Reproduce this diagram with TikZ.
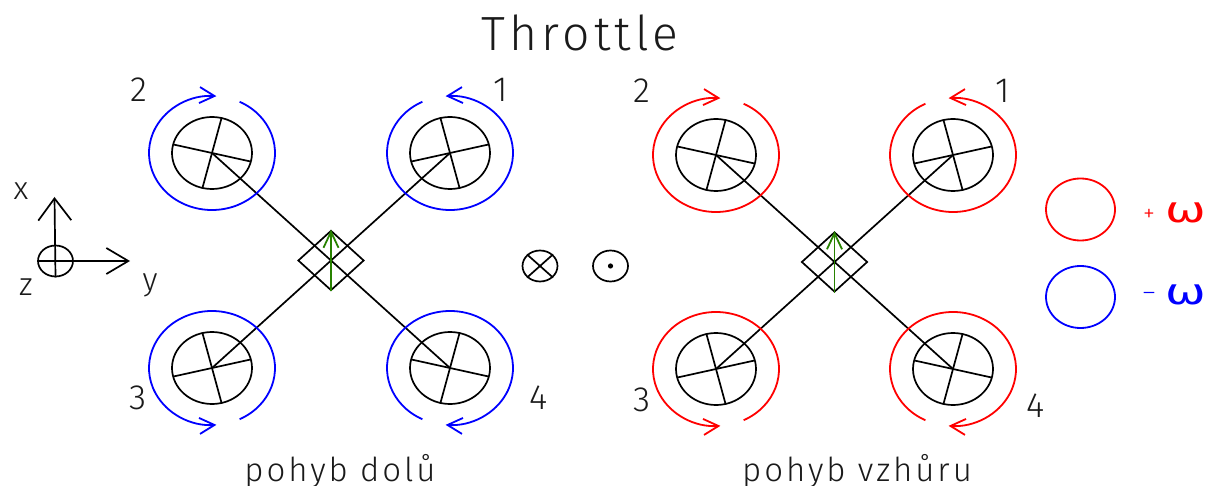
\documentclass[tikz,border=0pt]{standalone}
\usepackage{fontspec}
\usetikzlibrary{arrows.meta,shapes.geometric}
\setmainfont{Fira Sans Light}
\newfontfamily\spacedfont[LetterSpace=9]{Fira Sans Light}
\newfontfamily\omegafont[FakeStretch=1.35]{DejaVu Sans}
\definecolor{ink}{RGB}{26,26,26}
\definecolor{gr}{RGB}{40,130,0}
\tikzset{
  line/.style={draw=black,line width=1.7pt},
  rotorbody/.style={line,ellipse,minimum width=80pt,minimum height=72pt,inner sep=0pt},
  ringline/.style={line width=1.8pt,-{Straight Barb[length=15pt,width=16pt,line width=1.8pt]}},
  legendring/.style={ellipse,line width=1.8pt,minimum width=69pt,minimum height=62pt,inner sep=0pt},
  bodybox/.style={line,diamond,minimum width=66pt,minimum height=60pt,inner sep=0pt,aspect=1.1},
  lab/.style={text=ink,inner sep=0pt,font=\fontsize{35}{35}\selectfont},
  axlab/.style={text=ink,inner sep=0pt,font=\fontsize{32}{32}\selectfont},
  captext/.style={text=ink,inner sep=0pt,font=\spacedfont\fontsize{33}{33}\selectfont,anchor=base},
  axcirc/.style={line,ellipse,minimum width=35pt,minimum height=31pt,inner sep=0pt},
  thrust/.style={draw=gr,line width=1.8pt,-{Straight Barb[length=16pt,width=15pt,line width=1.8pt]}}
}
\newcommand{\rotorat}[5]{%
  \node[rotorbody] (#1) at (#2,#3) {};
  \draw[line] (#1.center) ++(#4,-35.5) -- ++({-2*(#4)},71);
  \draw[line] (#1.center) ++(-38.5,#5) -- ++(77,{-2*(#5)});
}
\newcommand{\ringat}[4]{%
  \draw[ringline,#2] (#1.center) ++(#3:63 and 57) arc[start angle=#3,end angle=#4,x radius=63,y radius=57];
}
\newcommand{\droneat}[6]{% prefix, centre x, left x, right x, top y, bottom y
  \rotorat{#1b}{#3}{#5}{9.7}{-8.5}
  \rotorat{#1a}{#4}{#5}{-9.7}{8.5}
  \rotorat{#1c}{#3}{#6}{-9.7}{8.5}
  \rotorat{#1d}{#4}{#6}{9.7}{-8.5}
  \node[bodybox] (#1body) at (#2,{(#5+#6)/2}) {};
  \draw[line] (#1b.center) -- (#1d.center);
  \draw[line] (#1c.center) -- (#1a.center);
  \draw[thrust] (#1body.south) -- (#1body.north);
}
\begin{document}
\begin{tikzpicture}[x=1pt,y=1pt,yscale=-1]
\useasboundingbox (0,0) rectangle (1207,486);
\node[text=ink,inner sep=0pt,font=\spacedfont\fontsize{48}{48}\selectfont] (title) at (580,33) {Throttle};
% left drone
\droneat{L}{331}{212}{450}{153}{368}
\ringat{Lb}{blue}{-64}{274}
\ringat{La}{blue}{244}{-94}
\ringat{Lc}{blue}{64}{-274}
\ringat{Ld}{blue}{116}{454}
\node[lab] (l2) at (139,90) {2};
\node[lab] (l1) at (501,90) {1};
\node[lab] (l3) at (138,398) {3};
\node[lab] (l4) at (539,398) {4};
\node[captext] (lcap) at (340,481) {pohyb dolů};
% right drone
\droneat{R}{834.5}{716}{953}{155}{369}
\ringat{Rb}{red}{-64}{274}
\ringat{Ra}{red}{244}{-94}
\ringat{Rc}{red}{64}{-274}
\ringat{Rd}{red}{116}{454}
\node[lab] (r2) at (642,91) {2};
\node[lab] (r1) at (1003,91) {1};
\node[lab] (r3) at (642,400) {3};
\node[lab] (r4) at (1036,406) {4};
\node[captext] (rcap) at (857,481) {pohyb vzhůru};
% axes
\node[axcirc] (axc) at (55.5,261) {};
\draw[line] (axc.west) -- (axc.east);
\coordinate (xtip) at (54.5,197);
\coordinate (ytip) at (130,261);
\draw[line,-{Straight Barb[length=22pt,width=33pt,line width=1.7pt]}] (axc.south) -- (xtip);
\draw[line,-{Straight Barb[length=22pt,width=26pt,line width=1.7pt]}] (axc.east) -- (ytip);
\node[axlab] (xl) at (21,191) {x};
\node[axlab] (yl) at (150,285) {y};
\node[axlab] (zl) at (26,287) {z};
% symbols
\node[axcirc] (ot) at (540,266) {};
\draw[line] (ot.north west) -- (ot.south east);
\draw[line] (ot.north east) -- (ot.south west);
\node[axcirc] (od) at (610.5,266) {};
\fill[black] (od.center) circle[radius=2.6];
% legend
\node[legendring,draw=red] (lgp) at (1080.5,209.5) {};
\node[legendring,draw=blue] (lgm) at (1080.5,297) {};
\node[text=red,inner sep=0pt,font=\fontsize{24}{24}\selectfont] (plus) at (1149,215) {+};
\node[text=blue,inner sep=0pt,font=\fontsize{24}{24}\selectfont] (minus) at (1149,296) {–};
\node[text=red,inner sep=0pt,font=\omegafont\fontsize{36}{36}\selectfont] (wp) at (1186,213) {ω};
\node[text=blue,inner sep=0pt,font=\omegafont\fontsize{36}{36}\selectfont] (wm) at (1186,295) {ω};
\end{tikzpicture}
\end{document}
